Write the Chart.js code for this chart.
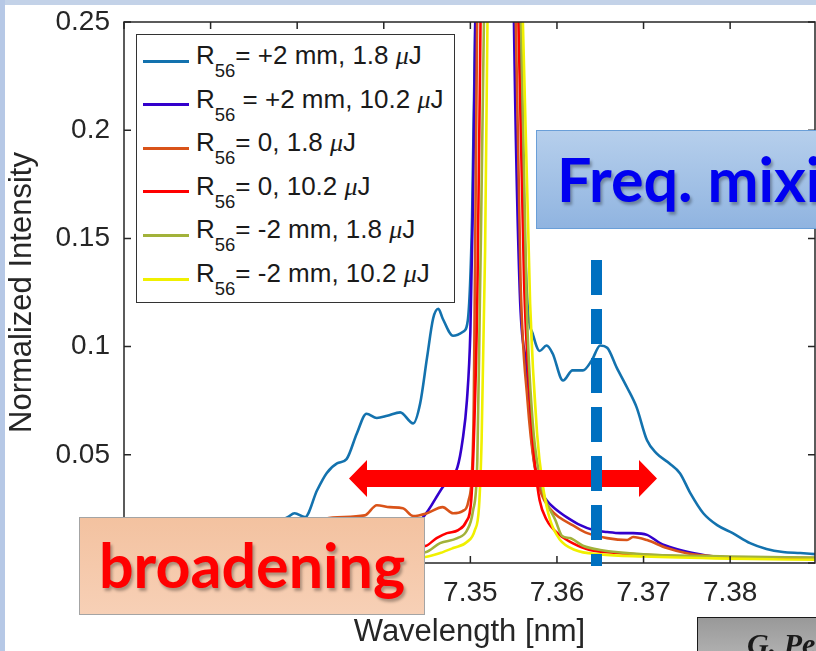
<!DOCTYPE html>
<html lang="en">
<head>
    <meta charset="UTF-8">
    <title>Normalized Intensity vs Wavelength</title>
    <script src="https://cdn.jsdelivr.net/npm/chart.js"></script>
    <style>
        html, body {
            margin: 0;
            padding: 0;
            background: #fff;
        }

        .page {
            position: relative;
            width: 816px;
            height: 651px;
            overflow: hidden;
            background: #fff;
            font-family: 'Liberation Sans', Arial, sans-serif;
        }

        .band-top {
            position: absolute;
            left: 0; top: 0;
            width: 816px; height: 5px;
            background: #c3d2e8;
        }

        .band-left {
            position: absolute;
            left: 0; top: 0;
            width: 5px; height: 651px;
            background: #b6c8e6;
        }

        #chart {
            position: absolute;
            left: 0; top: 0;
        }

        /* легенда в стиле MATLAB */
        .legend {
            position: absolute;
            left: 136px; top: 34px;
            width: 317px; height: 267px;
            border: 1.5px solid #333;
            background: #fff;
        }

        .legend .sample {
            position: absolute;
            left: 6px;
            width: 46px;
            height: 3px;
        }

        .legend .label {
            position: absolute;
            left: 59px;
            font-size: 26px;
            line-height: 30px;
            color: #1a1a1a;
            white-space: nowrap;
        }

        .legend .label .sub {
            position: relative;
            top: 13px;
            font-size: 18.5px;
        }

        .legend .label .mu {
            font-family: 'Liberation Serif', 'DejaVu Serif', serif;
            font-style: italic;
        }

        .freq-box {
            position: absolute;
            left: 536px; top: 130px;
            width: 300px; height: 97px;
            background: linear-gradient(#b6cfec, #90b4e0);
            border: 1px solid #6a9fd8;
        }

        .freq-text {
            position: absolute;
            left: 557px; top: 148px;
            font-family: 'Lato', 'Open Sans', sans-serif;
            font-weight: bold;
            font-size: 61px;
            line-height: 61px;
            color: #0000f0;
            white-space: nowrap;
            text-shadow: 2px 3px 3px rgba(0, 0, 0, 0.3);
        }

        .broad-box {
            position: absolute;
            left: 79px; top: 517px;
            width: 344px; height: 96px;
            background: linear-gradient(#f3c2a0, #f7d0b6);
            border: 1px solid #a4a4a4;
        }

        .broad-text {
            position: absolute;
            left: 99px; top: 534px;
            font-family: 'Lato', 'Open Sans', sans-serif;
            font-weight: bold;
            font-size: 61px;
            line-height: 61px;
            color: #ff0000;
            white-space: nowrap;
            text-shadow: 2px 3px 3px rgba(0, 0, 0, 0.3);
        }

        .ref-box {
            position: absolute;
            left: 697px; top: 617px;
            width: 140px; height: 50px;
            background: linear-gradient(#999, #b9b9b9);
            border: 1.5px solid #1a1a1a;
        }

        .ref-text {
            position: absolute;
            left: 747px; top: 627px;
            font-family: 'Liberation Serif', 'DejaVu Serif', serif;
            font-weight: bold;
            font-style: italic;
            font-size: 30px;
            line-height: 34px;
            color: #1a1a1a;
            white-space: nowrap;
        }

        svg.overlay {
            position: absolute;
            left: 0; top: 0;
        }
    </style>
</head>
<body>
<div class="page">
    <div class="band-top"></div>
    <div class="band-left"></div>
    <canvas id="chart" width="816" height="651"></canvas>
    <div class="legend" id="legend"></div>
    <div class="freq-box"></div>
    <div class="freq-text">Freq. mixing</div>
    <svg class="overlay" width="816" height="651">
        <!-- двусторонняя стрелка -->
        <polygon fill="#ff0000"
                 points="349,478.5 367,460 367,470 639,470 639,460 657,478.5 639,497 639,487 367,487 367,497"/>
        <!-- пунктирная линия -->
        <line x1="596.5" y1="260" x2="596.5" y2="566" stroke="#0070c0" stroke-width="11"
              stroke-dasharray="35 14"/>
    </svg>
    <div class="broad-box"></div>
    <div class="broad-text">broadening</div>
    <div class="ref-box"></div>
    <div class="ref-text">G. Pe</div>
</div>

<script>
    // Данные (длина волны, нм / нормированная интенсивность)
    // R56 = +2 mm, 1.8 uJ
    const wlP2Low = [7.310, 7.315, 7.320, 7.325, 7.3289, 7.3297, 7.3309, 7.3323, 7.3334, 7.3346, 7.3357,
        7.3369, 7.3380, 7.3392, 7.3404, 7.3419, 7.3434, 7.3442, 7.3450, 7.3457, 7.3463, 7.3468, 7.3480,
        7.3492, 7.3497, 7.3502, 7.3506, 7.3532, 7.3556, 7.3566, 7.3572, 7.3580, 7.3588, 7.3595, 7.3607,
        7.3618, 7.3630, 7.3640, 7.3650, 7.3658, 7.3669, 7.3681, 7.3692, 7.3704, 7.3715, 7.3730, 7.3742,
        7.3754, 7.3769, 7.3785, 7.3803, 7.3823, 7.3842, 7.3861, 7.3881, 7.3898];
    const inP2Low = [0.004, 0.006, 0.009, 0.014, 0.0212, 0.023, 0.0212, 0.0336, 0.0415, 0.046, 0.048,
        0.060, 0.069, 0.067, 0.068, 0.0696, 0.0645, 0.0737, 0.095, 0.113, 0.1175, 0.113, 0.105,
        0.107, 0.112, 0.16, 0.26, 1.0, 0.26, 0.12, 0.106, 0.098, 0.1005, 0.0968, 0.0843,
        0.089, 0.089, 0.0935, 0.1005, 0.0995, 0.0903, 0.0811, 0.0719, 0.0567, 0.0507, 0.046, 0.0415,
        0.0323, 0.023, 0.0175, 0.0138, 0.0092, 0.0065, 0.0051, 0.0046, 0.0041];

    // R56 = +2 mm, 10.2 uJ
    const wlP2High = [7.310, 7.325, 7.335, 7.340, 7.3445, 7.3468, 7.3485, 7.3491, 7.3496, 7.3500, 7.3503,
        7.3506, 7.3532, 7.3550, 7.3557, 7.3565, 7.3572, 7.3580, 7.3588, 7.3600, 7.3612, 7.3627, 7.3642,
        7.3658, 7.3673, 7.3688, 7.3704, 7.3719, 7.3734, 7.3757, 7.3785, 7.3823, 7.3898];
    const inP2High = [0.002, 0.005, 0.009, 0.012, 0.021, 0.035, 0.0442, 0.0567, 0.075, 0.107, 0.167,
        0.26, 1.0, 0.26, 0.126, 0.09, 0.052, 0.035, 0.029, 0.0244, 0.021, 0.0175, 0.0152,
        0.0143, 0.0138, 0.0138, 0.013, 0.0092, 0.0069, 0.0046, 0.0028, 0.0023, 0.002];

    // R56 = 0, 1.8 uJ
    const wl0Low = [7.310, 7.320, 7.330, 7.3341, 7.3378, 7.3392, 7.3407, 7.3422, 7.3434, 7.3450, 7.3468,
        7.3480, 7.3491, 7.3498, 7.3502, 7.3504, 7.3508, 7.3532, 7.3552, 7.3558, 7.3566, 7.3574, 7.3582,
        7.3592, 7.3603, 7.3618, 7.3635, 7.3658, 7.3681, 7.3688, 7.3704, 7.3727, 7.3750, 7.3785, 7.3840, 7.3898];
    const in0Low = [0.003, 0.008, 0.016, 0.021, 0.022, 0.0267, 0.0258, 0.0253, 0.0217, 0.023, 0.0258,
        0.023, 0.024, 0.029, 0.043, 0.075, 0.26, 1.0, 0.26, 0.13, 0.075, 0.045, 0.032,
        0.025, 0.021, 0.0175, 0.0138, 0.0115, 0.0106, 0.012, 0.0106, 0.0069, 0.0045, 0.003, 0.0023, 0.002];

    // R56 = 0, 10.2 uJ
    const wl0High = [7.310, 7.330, 7.340, 7.3448, 7.3461, 7.3473, 7.3486, 7.3495, 7.3501, 7.3504, 7.3508,
        7.3512, 7.3532, 7.3555, 7.3562, 7.3569, 7.3575, 7.3580, 7.3588, 7.3603, 7.3618, 7.3638, 7.3669,
        7.3707, 7.3765, 7.3898];
    const in0High = [0.002, 0.004, 0.006, 0.0078, 0.0115, 0.0138, 0.0152, 0.019, 0.029, 0.057, 0.121,
        0.26, 1.0, 0.26, 0.13, 0.075, 0.044, 0.029, 0.02, 0.013, 0.0092, 0.006, 0.0046,
        0.0037, 0.0028, 0.0023];

    // R56 = -2 mm, 1.8 uJ
    const wlM2Low = [7.310, 7.340, 7.3448, 7.3465, 7.3485, 7.3496, 7.3503, 7.3508, 7.3511, 7.3516, 7.3532,
        7.3558, 7.3565, 7.3572, 7.3580, 7.3586, 7.3598, 7.3606, 7.3615, 7.3630, 7.3650, 7.3700, 7.3800, 7.3898];
    const inM2Low = [0.002, 0.004, 0.005, 0.0092, 0.0115, 0.015, 0.024, 0.047, 0.121, 0.26, 1.0,
        0.26, 0.12, 0.065, 0.04, 0.03, 0.02, 0.0125, 0.0115, 0.008, 0.006, 0.004, 0.003, 0.0025];

    // R56 = -2 mm, 10.2 uJ
    const wlM2High = [7.310, 7.340, 7.3448, 7.3465, 7.3480, 7.3496, 7.3505, 7.3510, 7.3513, 7.3517, 7.3520,
        7.3532, 7.3560, 7.3569, 7.3577, 7.3584, 7.3592, 7.3603, 7.3621, 7.3650, 7.3700, 7.3800, 7.3898];
    const inM2High = [0.001, 0.002, 0.0028, 0.0046, 0.0069, 0.0097, 0.015, 0.026, 0.057, 0.144, 0.26,
        1.0, 0.26, 0.12, 0.06, 0.035, 0.02, 0.011, 0.006, 0.004, 0.003, 0.002, 0.0015];

    // Подписи легенды (текст после R56) и цвета линий
    const seriesLabels = ['= +2 mm, 1.8 ', ' = +2 mm, 10.2 ', '= 0, 1.8 ', '= 0, 10.2 ', '= -2 mm, 1.8 ', '= -2 mm, 10.2 '];
    const seriesColors = ['#1372ae', '#3300cc', '#d95319', '#ff0000', '#a2b23a', '#f0f000'];
    const seriesX = [wlP2Low, wlP2High, wl0Low, wl0High, wlM2Low, wlM2High];
    const seriesY = [inP2Low, inP2High, in0Low, in0High, inM2Low, inM2High];

    const FONT = "'Liberation Sans', Arial, sans-serif";

    // Рамка осей и внутренние засечки как в MATLAB
    const axesBox = {
        id: 'axesBox',
        afterDatasetsDraw(chart) {
            const {ctx, chartArea: a, scales: {x, y}} = chart;
            const tl = 7;
            ctx.save();
            ctx.strokeStyle = '#262626';
            ctx.lineWidth = 1.5;
            ctx.strokeRect(a.left, a.top, a.right - a.left, a.bottom - a.top);
            ctx.beginPath();
            x.ticks.forEach(t => {
                const px = x.getPixelForValue(t.value);
                ctx.moveTo(px, a.bottom);
                ctx.lineTo(px, a.bottom - tl);
                ctx.moveTo(px, a.top);
                ctx.lineTo(px, a.top + tl);
            });
            y.ticks.forEach(t => {
                const py = y.getPixelForValue(t.value);
                ctx.moveTo(a.left, py);
                ctx.lineTo(a.left + tl, py);
                ctx.moveTo(a.right, py);
                ctx.lineTo(a.right - tl, py);
            });
            ctx.stroke();
            ctx.restore();
        }
    };

    const ctx = document.getElementById('chart').getContext('2d');
    const chart = new Chart(ctx, {
        type: 'line',
        data: {
            datasets: seriesX.map((xs, i) => ({
                label: 'R56' + seriesLabels[i] + 'μJ',
                data: xs.map((v, j) => ({x: v, y: seriesY[i][j]})),
                borderColor: seriesColors[i],
                backgroundColor: seriesColors[i],
                borderWidth: 2.6,
                pointRadius: 0,
                fill: false,
                cubicInterpolationMode: 'monotone',
                // последние серии рисуются поверх, как в MATLAB
                order: seriesX.length - i
            }))
        },
        options: {
            responsive: false,
            animation: false,
            devicePixelRatio: 1,
            layout: {padding: {top: 22, right: 1, left: 0, bottom: 0}},
            plugins: {
                legend: {display: false},
                tooltip: {enabled: false}
            },
            scales: {
                x: {
                    type: 'linear',
                    min: 7.31,
                    max: 7.3898,
                    afterFit: s => {
                        s.height = 88;
                        s.paddingLeft = 0;
                        s.paddingRight = 0;
                    },
                    grid: {display: false, drawTicks: false},
                    border: {display: false},
                    ticks: {
                        stepSize: 0.01,
                        includeBounds: false,
                        autoSkip: false,
                        maxRotation: 0,
                        padding: 13,
                        color: '#262626',
                        font: {family: FONT, size: 28},
                        callback: v => v.toFixed(2)
                    },
                    title: {
                        display: true,
                        text: 'Wavelength [nm]',
                        color: '#262626',
                        font: {family: FONT, size: 31},
                        padding: {top: 0, bottom: 0}
                    }
                },
                y: {
                    min: 0,
                    max: 0.25,
                    afterFit: s => {
                        s.width = 124;
                        s.paddingTop = 0;
                        s.paddingBottom = 0;
                    },
                    grid: {display: false, drawTicks: false},
                    border: {display: false},
                    ticks: {
                        stepSize: 0.05,
                        padding: 14,
                        color: '#262626',
                        font: {family: FONT, size: 28},
                        callback: v => String(Math.round(v * 100) / 100)
                    },
                    title: {
                        display: true,
                        text: 'Normalized Intensity',
                        color: '#262626',
                        font: {family: FONT, size: 31},
                        padding: {top: 4, bottom: 0}
                    }
                }
            }
        },
        plugins: [axesBox]
    });

    // Легенда с подстрочным индексом
    const legend = document.getElementById('legend');
    seriesLabels.forEach((txt, i) => {
        const lineY = 26 + i * 43.6;
        const sample = document.createElement('div');
        sample.className = 'sample';
        sample.style.top = (lineY - 1.5) + 'px';
        sample.style.background = seriesColors[i];
        legend.appendChild(sample);

        const label = document.createElement('div');
        label.className = 'label';
        label.style.top = (lineY - 21) + 'px';
        label.innerHTML = 'R<span class="sub">56</span>' + txt.replace(/ /g, '&nbsp;') +
            '<span class="mu">μ</span>J';
        legend.appendChild(label);
    });
</script>
</body>
</html>
